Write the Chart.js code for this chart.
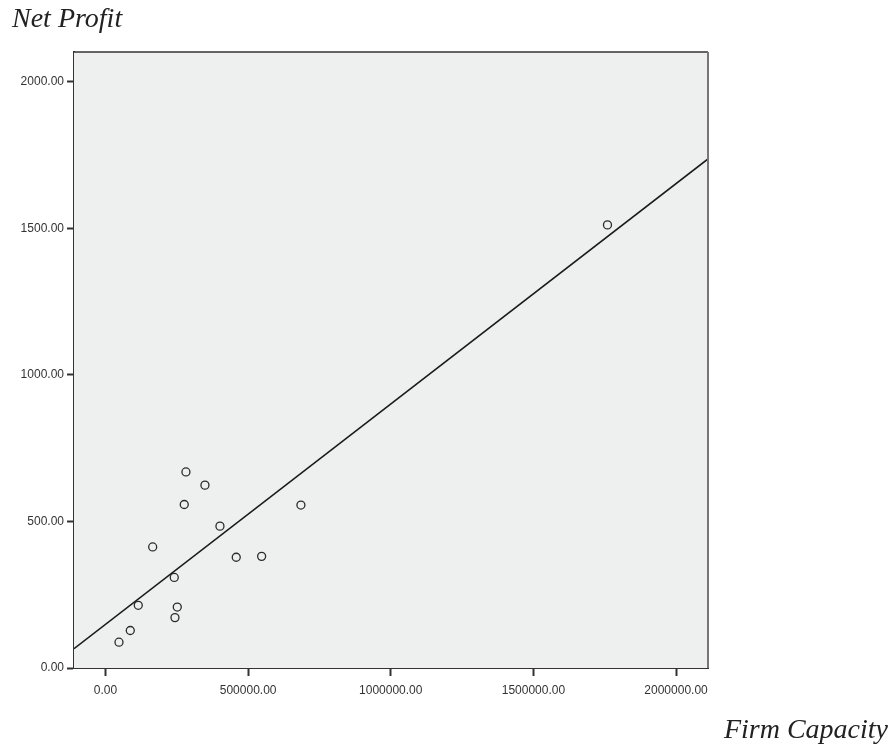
<!DOCTYPE html>
<html>
<head>
<meta charset="utf-8">
<script src="https://cdn.jsdelivr.net/npm/chart.js@4"></script>
<style>
  body { margin: 0; background: #fff; }
  #wrap { width: 892px; height: 747px; }
</style>
</head>
<body>
<div id="wrap"><canvas id="myChart" width="892" height="747"></canvas></div>
<script>
// firm capacity vs net profit
const FIRM_CAPACITY = [282000, 348600, 276100, 401200, 165400, 458300, 547300, 685000, 241100, 114900, 251600, 243500, 86900, 47300, 1759600];
const NET_PROFIT = [669, 624, 558, 484, 413, 378, 381, 556, 309, 214, 208, 172, 128, 88, 1512];

// fit line ends, at the plot borders
const FIT_X = [-110400, 2112000];
const FIT_Y = [66, 1737];

const X_TICKS = [0, 500000, 1000000, 1500000, 2000000];
const Y_TICKS = [0, 500, 1000, 1500, 2000];

const puntos = FIRM_CAPACITY.map((x, i) => ({ x: x, y: NET_PROFIT[i] }));
const recta = FIT_X.map((x, i) => ({ x: x, y: FIT_Y[i] }));

// gray plot background + frame, and the two axis titles
const marco = {
    id: 'marco',
    beforeDatasetsDraw(chart) {
        const a = chart.chartArea;
        const c = chart.ctx;
        c.save();
        c.fillStyle = '#EEF0EF';
        c.fillRect(a.left, a.top, a.right - a.left, a.bottom - a.top);
        c.restore();
    },
    afterDraw(chart) {
        const a = chart.chartArea;
        const c = chart.ctx;
        c.save();
        c.strokeStyle = '#333';
        c.lineWidth = 1.5;
        c.beginPath();
        c.moveTo(a.left, a.top);
        c.lineTo(a.right, a.top);
        c.stroke();
        c.strokeStyle = '#777';
        c.lineWidth = 2;
        c.beginPath();
        c.moveTo(a.right, a.top);
        c.lineTo(a.right, a.bottom);
        c.stroke();
        c.fillStyle = '#222';
        c.font = 'italic 28px "Liberation Serif"';
        c.textBaseline = 'alphabetic';
        c.textAlign = 'left';
        c.fillText('Net Profit', 12, 27);
        c.textAlign = 'right';
        c.fillText('Firm Capacity', 888, 738);
        c.restore();
    }
};

var ctx = document.getElementById('myChart').getContext('2d');
var myChart = new Chart(ctx, {
    type: 'scatter',
    data: {
        datasets: [
            {
                label: 'puntos',
                data: puntos,
                pointStyle: 'circle',
                pointRadius: 4,
                pointBorderWidth: 1.3,
                pointBorderColor: '#2a2a2a',
                pointBackgroundColor: 'rgba(0,0,0,0)'
            },
            {
                label: 'ajuste',
                data: recta,
                showLine: true,
                pointRadius: 0,
                borderColor: '#1a1a1a',
                borderWidth: 1.6
            }
        ]
    },
    options: {
        responsive: false,
        animation: false,
        layout: {
            padding: { top: 52, right: 184, left: 0, bottom: 0 }
        },
        plugins: {
            legend: { display: false },
            tooltip: { enabled: false }
        },
        scales: {
            x: {
                type: 'linear',
                min: FIT_X[0],
                max: FIT_X[1],
                afterBuildTicks: (s) => { s.ticks = X_TICKS.map(v => ({ value: v })); },
                afterFit: (s) => { s.height = 79; },
                ticks: {
                    font: { family: 'Liberation Sans', size: 12 },
                    color: '#333',
                    padding: 7,
                    maxRotation: 0,
                    callback: (v) => Number(v).toFixed(2)
                },
                border: {
                    display: true,
                    color: '#333',
                    width: 2
                },
                grid: {
                    drawOnChartArea: false,
                    tickLength: 8,
                    tickColor: '#333',
                    tickWidth: 2
                }
            },
            y: {
                type: 'linear',
                min: 0,
                max: 2102,
                afterBuildTicks: (s) => { s.ticks = Y_TICKS.map(v => ({ value: v })); },
                afterFit: (s) => { s.width = 74; },
                ticks: {
                    font: { family: 'Liberation Sans', size: 12 },
                    color: '#333',
                    padding: 3,
                    callback: (v) => Number(v).toFixed(2)
                },
                border: {
                    display: true,
                    color: '#333',
                    width: 2
                },
                grid: {
                    drawOnChartArea: false,
                    tickLength: 7,
                    tickColor: '#333',
                    tickWidth: 2
                }
            }
        }
    },
    plugins: [marco]
});
</script>
</body>
</html>
